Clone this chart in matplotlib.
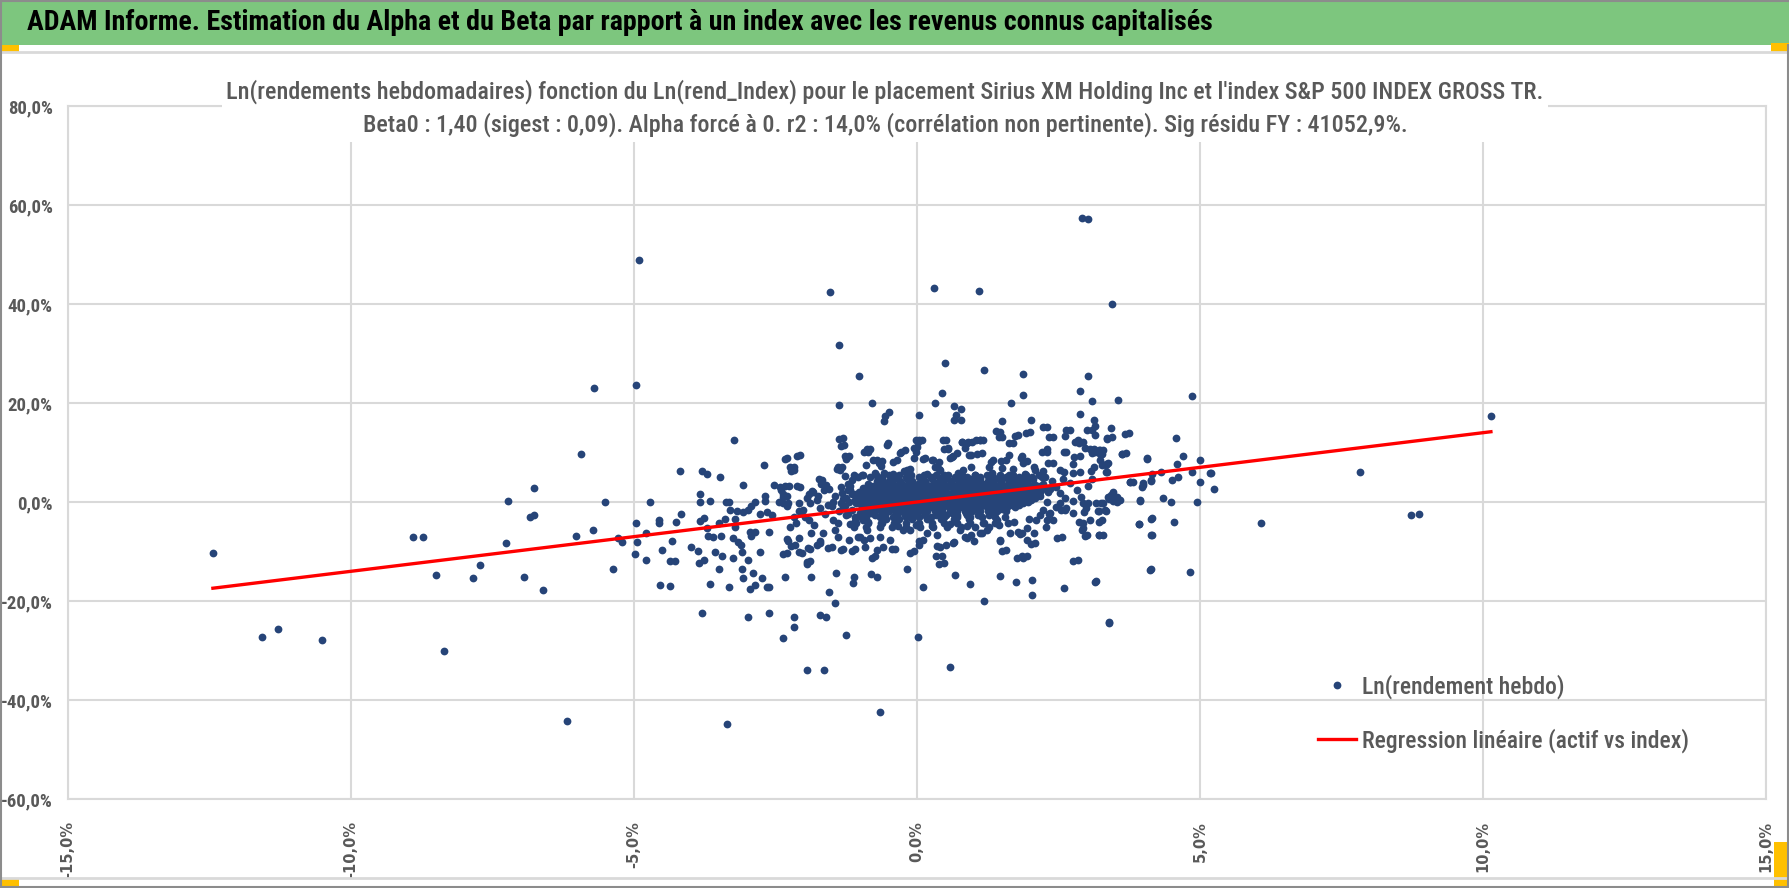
import numpy as np
import matplotlib
matplotlib.use('Agg')
import matplotlib.pyplot as plt
from matplotlib import font_manager
from matplotlib.font_manager import FontProperties
from matplotlib.patches import Rectangle
from matplotlib.lines import Line2D
from matplotlib.ticker import FuncFormatter

# --- données (en %) ---
titre = "ADAM Informe. Estimation du Alpha et du Beta par rapport à un index avec les revenus connus capitalisés"
sous_titre_1 = "Ln(rendements hebdomadaires) fonction du Ln(rend_Index) pour le placement Sirius XM Holding Inc et l'index S&P 500 INDEX GROSS TR."
sous_titre_2 = "Beta0 : 1,40 (sigest : 0,09). Alpha forcé à 0. r2 : 14,0% (corrélation non pertinente). Sig résidu FY : 41052,9%."
legende_points = "Ln(rendement hebdo)"
legende_droite = "Regression linéaire (actif vs index)"
beta0 = 1.40

x_ticks = [-15, -10, -5, 0, 5, 10, 15]
y_ticks = [-60, -40, -20, 0, 20, 40, 60, 80]

# points isolés à gauche
pts_gauche = [(-12.44, -10.4), (-11.58, -27.2), (-11.29, -25.7), (-10.52, -27.8), (-8.90, -7.1),
              (-8.72, -7.1), (-8.50, -14.8), (-8.36, -30.1), (-7.84, -15.4), (-7.72, -12.8),
              (-7.27, -8.3), (-7.23, 0.2), (-6.94, -15.1), (-6.83, -3.0), (-6.76, -2.7),
              (-6.76, 2.9), (-6.61, -17.7), (-6.19, -44.2), (-6.02, -6.9), (-5.94, 9.6),
              (-5.73, -5.7), (-5.71, 23.1), (-5.51, -0.1), (-5.37, -13.5), (-5.29, -7.2),
              (-5.21, -8.1), (-4.97, 23.7), (-4.97, -4.2), (-4.95, -8.1), (-4.98, -10.6),
              (-4.91, 48.9), (-4.78, -6.3), (-4.78, -11.7), (-4.72, -0.1)]

# nuage bas / milieu
pts_bas = [(-4.56, -3.7), (-4.55, -4.2), (-4.51, -9.6), (-4.54, -16.7), (-4.37, -17.0), (-4.37, -11.9),
           (-4.27, -11.9), (-4.33, -7.9), (-4.26, -4.0), (-4.17, -2.4), (-4.0, -9.1), (-3.87, -9.9),
           (-3.85, -12.3), (-3.77, -11.8), (-3.83, 1.7), (-3.83, 0.1), (-3.83, -3.9), (-3.76, -3.2),
           (-3.71, -5.2), (-3.69, -6.9), (-3.60, -7.1), (-3.46, -6.9), (-3.65, 0.3), (-3.65, -16.5),
           (-3.57, -10.1), (-3.50, -13.5), (-3.44, -11.0), (-3.79, -22.4), (-3.49, -4.2), (-3.40, -3.4),
           (-3.37, 0.1), (-3.32, 0.1), (-3.33, -17.1), (-3.31, -1.6), (-3.22, -3.4), (-3.21, -5.1),
           (-3.25, -7.2), (-3.25, -11.4), (-3.16, -8.1), (-3.11, -8.7), (-3.09, -10.1), (-3.09, -13.5),
           (-3.07, -15.4), (-3.18, -1.8), (-3.07, -2.1), (-2.98, -1.6), (-2.94, -0.9), (-2.87, 0.0),
           (-2.99, -11.7), (-2.99, -23.3), (-2.95, -6.1), (-2.93, -6.9), (-2.87, -6.1), (-2.87, -16.7),
           (-2.95, -17.5), (-2.89, -14.4), (-2.78, -2.4), (-2.78, -10.1), (-2.73, -15.3), (-2.69, 1.2),
           (-2.69, 0.3), (-2.65, -17.2), (-2.62, -17.2), (-2.61, -22.4), (-2.61, -6.1), (-2.65, -2.0),
           (-2.57, -2.7), (-2.53, 3.5), (-2.41, 2.5), (-2.37, 1.7), (-2.33, 3.2), (-2.43, 0.0),
           (-2.37, -0.3), (-2.37, -10.6), (-2.36, -27.4), (-2.34, -15.2), (-2.30, -7.4), (-2.28, -7.8),
           (-2.22, -8.8), (-2.30, 1.3), (-2.28, -0.3), (-2.18, -23.3), (-2.18, -25.3), (-2.12, 3.2),
           (-2.09, -0.2), (-2.08, -1.9), (-2.09, -7.3), (-2.09, -10.2), (-1.95, -12.1), (-1.95, -12.5),
           (-1.95, -33.9), (-1.64, -33.9), (-1.87, -15.2), (-1.92, -9.3), (-1.87, -6.3), (-1.90, -3.7),
           (-1.90, 1.7), (-1.85, 2.2), (-1.74, 4.6), (-1.70, 3.7), (-1.76, -8.6), (-1.72, -7.8),
           (-1.72, -22.9), (-1.61, -23.3), (-1.57, -9.3), (-1.55, -18.2), (-1.45, -20.4), (-1.43, -14.4),
           (-1.34, -9.6), (-1.26, -26.8), (-1.15, -9.9), (-1.13, -16.4), (-1.11, -15.2), (-0.94, -7.6),
           (-1.04, -7.1), (-0.81, -14.6), (-0.71, -15.2), (-0.80, -11.3), (-0.65, -42.5), (-0.44, -9.4),
           (-0.60, -9.0), (-0.17, -13.5), (0.02, -27.3), (0.04, -8.6), (0.04, -7.9), (-0.13, -10.3),
           (0.10, -17.1), (0.34, -11.0), (0.38, -12.6), (0.36, -8.8), (0.51, -8.6), (0.59, -33.4),
           (0.67, -14.7), (0.93, -16.5), (1.00, -7.9), (1.18, -20.1), (1.46, -15.0), (1.50, -9.9),
           (1.46, -7.9), (1.75, -16.2), (1.77, -11.4), (1.87, -11.4), (2.01, -8.4), (2.03, -15.8),
           (2.03, -18.8), (2.48, -7.3), (2.60, -17.3), (2.76, -12.0), (2.96, -6.9), (3.15, -16.1),
           (3.21, -6.7), (3.40, -24.4), (3.76, 4.0), (4.00, 3.4), (4.14, 4.5), (3.94, 0.3),
           (3.92, -4.5), (4.14, -3.4), (4.14, -6.7), (4.12, -13.7), (3.37, 1.0), (3.46, 0.3),
           (3.53, 0.1), (3.17, -0.3), (3.21, -1.8), (2.94, -0.3), (2.95, -2.0), (2.87, -4.0),
           (2.93, -5.2), (2.33, -2.4), (2.29, 0.0), (2.55, -1.6), (2.62, -1.7), (1.94, -5.3),
           (2.28, -5.1), (1.79, -6.1), (1.82, -6.4), (1.15, -6.3), (0.84, -7.1), (0.65, -8.1),
           (-3.36, -44.9)]

# nuage haut
pts_haut = [(2.91, 57.4), (3.03, 57.1), (-1.53, 42.4), (0.30, 43.2), (1.10, 42.6), (3.44, 39.9),
            (-1.37, 31.7), (0.49, 28.1), (1.18, 26.7), (-1.02, 25.5), (1.88, 25.8), (3.03, 25.5),
            (2.88, 22.5), (0.45, 22.0), (1.87, 21.6), (3.56, 20.7), (3.09, 20.5), (-1.37, 19.6),
            (-0.80, 20.1), (0.32, 19.9), (1.66, 19.9), (0.65, 19.3), (0.77, 18.7), (0.69, 17.5),
            (0.66, 16.5), (0.77, 16.6), (-0.49, 18.2), (-0.57, 17.3), (-0.59, 16.4), (0.04, 17.5),
            (2.88, 17.8), (1.50, 16.3), (2.01, 16.6), (3.13, 16.6), (3.15, 15.4), (3.01, 14.5),
            (3.15, 13.6), (2.22, 15.2), (2.64, 14.6), (2.62, 13.4), (3.42, 14.9), (3.68, 13.7),
            (1.40, 14.3), (1.44, 13.1), (1.93, 13.9), (1.73, 13.3), (2.34, 13.1), (3.36, 12.8),
            (-3.24, 12.5), (-1.37, 12.8), (-1.35, 11.4), (-0.01, 12.5), (0.04, 12.5), (0.46, 12.5),
            (1.04, 12.6), (1.11, 12.6), (0.80, 12.1), (0.90, 12.1), (0.84, 11.0), (1.62, 11.9),
            (2.80, 12.2), (2.87, 11.9), (2.96, 10.9), (3.05, 10.8), (3.09, 9.8), (3.22, 10.5),
            (3.24, 9.6), (-0.53, 11.6), (-0.94, 10.2), (-0.88, 10.8), (-0.29, 10.2), (-0.06, 11.0),
            (-0.01, 10.0), (0.48, 10.7), (0.55, 11.0), (2.20, 10.2), (2.29, 10.7), (2.59, 10.1),
            (3.62, 9.6), (4.07, 8.6), (-2.34, 8.7), (-2.12, 9.3), (-2.71, 7.5), (-2.24, 7.0),
            (-2.22, 6.3), (-1.27, 9.3), (-1.26, 8.6), (-0.77, 8.5), (-0.67, 7.9), (-0.63, 7.2),
            (-0.43, 8.1), (0.11, 8.7), (0.26, 8.4), (0.39, 8.1), (0.59, 8.9), (0.62, 9.0),
            (0.92, 9.4), (1.06, 9.6), (1.63, 9.4), (1.83, 8.8), (1.87, 7.8), (1.31, 8.0),
            (1.49, 8.2), (2.32, 7.8), (2.78, 9.0), (2.76, 7.7), (3.34, 7.5), (3.13, 7.1),
            (-4.19, 6.3), (-3.80, 6.3), (-3.71, 5.7), (-3.48, 5.1), (-3.07, 3.4), (-1.42, 6.6),
            (-1.40, 7.1), (-0.90, 7.5), (-0.23, 6.3), (-0.13, 6.7), (0.31, 7.0), (0.38, 6.7),
            (0.81, 6.5), (0.95, 7.1), (1.27, 7.0), (1.50, 6.9), (1.69, 6.7), (2.06, 7.0),
            (2.22, 6.3), (2.59, 6.1), (2.88, 6.1), (3.08, 6.3), (3.36, 6.1)]

# points à droite
pts_droite = [(4.85, 21.4), (10.14, 17.3), (7.83, 6.1), (6.07, -4.2), (8.72, -2.7), (8.87, -2.5),
              (5.0, 8.5), (4.70, 9.3), (4.57, 12.9), (4.07, 8.8), (3.35, 12.9), (3.62, 9.7),
              (3.24, 10.6), (3.26, 9.7), (3.23, 8.5), (3.34, 7.7), (3.34, 6.1), (4.59, 7.7),
              (4.31, 6.1), (4.16, 5.6), (4.13, 4.3), (4.00, 3.8), (3.98, 3.1), (3.76, 4.1),
              (4.86, 6.1), (5.20, 5.8), (5.18, 5.8), (5.0, 4.0), (5.24, 2.6), (4.51, 4.4),
              (4.61, 5.0), (4.35, 0.8), (4.49, -0.1), (4.94, -0.1), (3.94, 0.5), (3.52, 0.3),
              (3.43, 1.4), (3.40, 0.6), (3.25, -0.3), (3.20, -1.8), (3.34, -1.8), (3.22, -4.0),
              (3.22, -6.6), (3.93, -4.5), (4.15, -3.3), (4.15, -6.6), (4.54, -4.0), (4.13, -13.6),
              (4.82, -14.2), (3.17, -16.0), (3.40, -24.2)]

# halo autour du coeur
pts_halo = [(-2.29, 8.8), (-2.07, 9.5), (-2.18, 7.1), (-2.17, 6.5), (-2.27, 3.3), (-2.42, 3.1),
            (-2.36, 1.1), (-2.30, -0.9), (-2.18, -3.0), (-2.24, -5.0), (-2.13, -4.3), (-2.07, 3.1),
            (-2.01, -1.6), (-1.98, -3.0), (-1.89, -0.3), (-1.83, 2.1), (-1.77, 0.4), (-1.71, -1.3),
            (-1.68, 4.5), (-1.65, 2.4), (-1.60, 3.4), (-1.51, -0.9), (-1.48, -3.6), (-1.45, -5.6),
            (-1.39, -7.0), (-1.36, 6.5), (-1.33, 7.1), (-1.30, 12.9), (-1.29, 11.5), (-1.21, 9.2),
            (-1.18, 2.4), (-1.15, 4.5), (-1.11, 5.5), (-1.07, -0.3), (-1.01, -2.3), (-0.95, -3.6),
            (-0.89, -5.6), (-0.83, -7.3), (-0.86, 10.2), (-0.83, 10.8), (-0.71, 8.5), (-0.62, 8.2),
            (-0.59, 5.8), (-0.51, 11.9), (-0.36, 8.5), (-0.30, 9.8), (-0.21, 10.5), (-0.18, 6.5),
            (-0.06, 8.8), (0.0, 11.2), (0.02, 12.2), (0.08, 12.5), (0.14, 8.8), (0.29, 8.5),
            (0.41, 6.5), (0.52, 12.5), (0.55, 10.8), (0.64, 9.2), (0.70, 9.8), (0.79, 12.2),
            (0.88, 11.9), (0.97, 12.2), (0.96, 9.5), (1.11, 12.5), (1.17, 12.5), (1.14, 9.8),
            (1.35, 8.5), (1.47, 14.2), (1.50, 13.2), (1.58, 8.5), (1.70, 11.9), (1.79, 13.5),
            (1.85, 9.2), (1.94, 8.2), (1.99, 14.2), (2.09, 6.5), (2.29, 15.2), (2.29, 10.2),
            (2.41, 13.2), (2.41, 7.8), (2.53, 6.5), (2.64, 10.2), (2.70, 14.5), (2.76, 5.8),
            (2.85, 12.5), (2.88, 9.2), (2.94, 12.2), (3.09, 14.5), (3.12, 10.8), (3.15, 10.2),
            (3.26, 7.5), (3.29, 10.5), (3.38, 7.8), (3.44, 13.2), (3.70, 9.8), (3.75, 13.9),
            (3.82, 4.1), (3.47, 2.1), (3.53, 1.1), (3.59, 0.4), (3.29, -0.3), (3.32, -1.6),
            (3.26, -3.6), (3.03, -0.3), (3.06, -3.6), (2.94, -4.3), (2.91, -5.6), (3.0, -6.7),
            (3.29, -6.7), (2.76, -2.3), (2.64, -1.3), (2.53, -0.3), (2.56, -7.0), (2.41, -3.6),
            (2.35, -2.3), (2.23, -1.6), (2.29, -3.6), (2.11, -3.6), (2.06, -6.3), (2.09, -8.3),
            (1.85, -6.3), (1.94, -7.7), (1.85, -11.0), (1.94, -11.0), (1.64, -6.3), (1.58, -9.7),
            (1.47, -7.7), (1.41, -3.6), (1.23, -5.6), (1.11, -6.3), (0.96, -6.7), (0.88, -7.3),
            (0.76, -5.6), (0.64, -8.3), (0.41, -9.0), (0.44, -11.0), (0.47, -12.4), (0.35, -6.7),
            (0.17, -6.3), (0.11, -7.7), (-0.06, -10.0), (-0.12, -5.6), (-0.24, -5.6), (-0.39, -9.4),
            (-0.48, -7.7), (-0.65, -7.0), (-0.71, -9.7), (-0.74, -11.0), (-0.92, -9.0), (-1.01, -7.0),
            (-1.10, -9.4), (-1.21, -7.7), (-1.30, -9.4), (-1.51, -9.0), (-1.71, -8.3), (-1.89, -9.4),
            (-1.89, -12.0), (-2.04, -10.4), (-2.16, -8.7), (-2.30, -10.4), (2.85, -11.7),
            (-1.45, 1.2), (-1.38, -1.8), (-1.30, 0.6), (-1.25, -2.6), (-1.22, 3.6), (-1.18, -4.4),
            (-1.12, 1.6), (-1.40, -4.2), (-1.55, 2.7), (-1.62, -2.4), (-1.28, 5.2), (-0.98, 5.4),
            (-0.75, 5.9), (-0.42, 5.6), (-0.12, 5.3), (0.18, 5.7), (0.47, 5.4), (0.73, 5.9),
            (1.02, 5.5), (1.33, 5.8), (1.62, 5.4), (1.91, 5.6), (2.21, 5.1), (2.38, 4.2),
            (2.46, 3.0), (2.52, 1.8), (2.61, 0.9), (2.70, 3.8), (2.82, 2.4), (2.90, 1.1),
            (3.02, 3.2), (3.10, 4.6), (2.45, -1.0), (2.18, -2.6), (1.98, -3.4), (1.72, -4.1),
            (1.44, -4.6), (1.18, -4.3), (0.88, -4.8), (0.58, -4.5), (0.27, -4.9), (-0.02, -4.6),
            (-0.33, -4.8), (-0.62, -4.3), (-0.86, -4.0), (-0.99, -3.0), (2.35, 2.7), (2.58, 4.6),
            (2.75, 0.2), (2.98, -1.2), (-1.35, 3.0), (-1.48, 0.0), (-1.58, -0.6), (-1.75, 1.3),
            (-1.95, 0.8), (-2.05, -2.2), (-1.82, -4.6), (-1.66, -6.2),
            (-1.18, 3.2), (-1.22, 2.4), (-1.15, 1.6), (-1.25, 0.8), (-1.20, 0.0), (-1.28, -0.8),
            (-1.15, -1.6), (-1.22, -2.4), (-1.10, -3.8), (-1.32, 1.9), (-1.35, -0.2), (-1.30, -1.3)]

# coeur dense : une rangée par niveau de rendement de l'actif, abscisses = rendements de l'index
coeur_y = [5.5, 5.0, 4.6, 4.2, 3.7, 3.3, 2.9, 2.5, 2.1, 1.7, 1.3, 0.9, 0.5, 0.1, -0.3, -0.7, -1.1,
           -1.5, -1.9, -2.3, -2.7, -3.1, -3.5, -4.2, -5.0]
coeur_x = [
    [-0.95, -0.72, -0.50, -0.31, -0.10, 0.12, 0.34, 0.55, 0.79, 1.02, 1.24, 1.47, 1.70, 1.93, 2.15],
    [-1.05, -0.83, -0.61, -0.40, -0.19, 0.03, 0.24, 0.45, 0.67, 0.89, 1.11, 1.34, 1.57, 1.80, 2.03,
     2.26],
    [-0.62, -0.41, -0.18, 0.07, 0.26, 0.49, 0.71, 0.93, 1.12, 1.38, 1.61, 1.84, 2.05],
    [-0.70, -0.50, -0.30, -0.08, 0.15, 0.38, 0.60, 0.82, 1.03, 1.25, 1.49, 1.72, 1.95],
    [-0.86, -0.71, -0.55, -0.42, -0.27, -0.13, 0.02, 0.16, 0.31, 0.44, 0.59, 0.72, 0.88, 1.01,
     1.16, 1.30, 1.47, 1.60, 1.76, 1.91, 2.07, 2.22],
    [-0.78, -0.62, -0.35, -0.20, -0.07, 0.10, 0.24, 0.37, 0.52, 0.66, 0.80, 0.95, 1.09, 1.23,
     1.39, 1.54, 1.69, 1.83, 1.98, 2.14],
    [-0.95, -0.84, -0.73, -0.61, -0.50, -0.39, -0.28, -0.16, -0.05, 0.06, 0.17, 0.29, 0.40, 0.51,
     0.63, 0.74, 0.85, 0.97, 1.08, 1.19, 1.31, 1.42, 1.53, 1.65, 1.76, 1.87, 1.99, 2.10, 2.24],
    [-0.90, -0.67, -0.44, -0.22, 0.01, 0.23, 0.46, 0.68, 0.91, 1.13, 1.36, 1.59, 1.81, 2.04, 2.19],
    [-1.02, -0.91, -0.80, -0.69, -0.58, -0.47, -0.36, -0.25, -0.14, -0.03, 0.08, 0.19, 0.30, 0.41,
     0.52, 0.63, 0.74, 0.85, 0.96, 1.07, 1.18, 1.29, 1.40, 1.51, 1.62, 1.73, 1.84, 1.95, 2.06,
     2.18, 2.31],
    [-0.96, -0.74, -0.52, -0.30, -0.08, 0.14, 0.36, 0.58, 0.80, 1.02, 1.24, 1.46, 1.68, 1.90, 2.12],
    [-1.05, -0.94, -0.83, -0.72, -0.61, -0.50, -0.39, -0.28, -0.17, -0.06, 0.05, 0.16, 0.27, 0.38,
     0.49, 0.60, 0.71, 0.82, 0.93, 1.04, 1.15, 1.26, 1.37, 1.48, 1.59, 1.70, 1.81, 1.92, 2.04, 2.17],
    [-1.00, -0.78, -0.56, -0.34, -0.12, 0.10, 0.32, 0.54, 0.76, 0.98, 1.20, 1.42, 1.64, 1.86, 2.08],
    [-1.10, -0.99, -0.88, -0.77, -0.66, -0.55, -0.44, -0.33, -0.22, -0.11, 0.00, 0.11, 0.22, 0.33,
     0.44, 0.55, 0.66, 0.77, 0.88, 0.99, 1.10, 1.21, 1.32, 1.43, 1.54, 1.65, 1.76, 1.88, 2.01],
    [-1.04, -0.82, -0.60, -0.38, -0.16, 0.06, 0.28, 0.50, 0.72, 0.94, 1.16, 1.38, 1.60, 1.82, 1.96],
    [-1.02, -0.91, -0.80, -0.69, -0.58, -0.47, -0.36, -0.25, -0.14, -0.03, 0.08, 0.19, 0.30, 0.41,
     0.52, 0.63, 0.74, 0.85, 0.96, 1.07, 1.18, 1.29, 1.40, 1.51, 1.62, 1.74, 1.87],
    [-0.96, -0.74, -0.52, -0.30, -0.08, 0.14, 0.36, 0.58, 0.80, 1.02, 1.24, 1.46, 1.68, 1.80],
    [-0.97, -0.86, -0.75, -0.64, -0.53, -0.42, -0.31, -0.20, -0.09, 0.02, 0.13, 0.24, 0.35, 0.46,
     0.57, 0.68, 0.79, 0.90, 1.01, 1.12, 1.23, 1.34, 1.46, 1.59, 1.73],
    [-0.90, -0.70, -0.48, -0.26, -0.04, 0.18, 0.40, 0.62, 0.84, 1.06, 1.28, 1.50],
    [-0.92, -0.78, -0.64, -0.50, -0.37, -0.23, -0.10, 0.04, 0.17, 0.31, 0.44, 0.58, 0.71, 0.85,
     0.98, 1.12, 1.26, 1.41, 1.57],
    [-0.82, -0.58, -0.34, -0.10, 0.14, 0.38, 0.62, 0.86, 1.10, 1.34],
    [-0.74, -0.56, -0.38, -0.21, -0.03, 0.15, 0.33, 0.52, 0.70, 0.89, 1.08, 1.28],
    [-1.10, -0.90, -0.65, -0.42, -0.20, 0.03, 0.25, 0.47, 0.70, 0.93, 1.15, 1.37, 1.55],
    [-0.55, -0.31, -0.08, 0.17, 0.42, 0.66, 0.92],
    [-1.08, -0.86, -0.63, -0.41, -0.19, 0.04, 0.26, 0.48, 0.71, 0.93, 1.16, 1.38, 1.61],
    [-1.12, -0.90, -0.66, -0.44, -0.20, 0.05, 0.29, 0.53, 0.78, 1.02, 1.27],
]

# --- assemblage ---
pts = pts_gauche + pts_bas + pts_haut + pts_droite + pts_halo
for yy, xs in zip(coeur_y, coeur_x):
    pts += [(xx, yy) for xx in xs]
pts = np.array(pts)
rend_index = pts[:, 0]
rend_actif = pts[:, 1]


# --- polices : on cherche une police étroite (type Calibri) ---
def cherche_etroite(poids_voulus):
    prefs = ['LiberationSansNarrow', 'RobotoCondensed', 'DejaVuSansCondensed', 'OpenSansCondensed',
             'NotoSansCondensed', 'Narrow', 'Condensed']
    fichiers = [f for f in font_manager.fontManager.ttflist
                if f.style == 'normal' and isinstance(f.weight, int)]
    for poids in poids_voulus:
        for p in prefs:
            for f in fichiers:
                nom = f.fname.replace('-', '').replace('_', '').replace(' ', '').lower()
                if p.lower() in nom and abs(f.weight - poids) < 60:
                    return FontProperties(fname=f.fname)
    return FontProperties(family='Roboto', weight=poids_voulus[0])


fp_reg = cherche_etroite([400])
fp_moyen = cherche_etroite([500, 400])
fp_gras = cherche_etroite([700])
gris = '#595959'
bleu = '#264478'

W, H = 1790, 888
fig = plt.figure(figsize=(W / 100, H / 100), dpi=100)
fig.patch.set_facecolor('white')


def fy(py):
    return 1 - py / H


def fx(px):
    return px / W


# bandeau vert + décor du cadre
fig.patches.append(Rectangle((0, fy(45)), 1, fy(2) - fy(45), transform=fig.transFigure,
                             facecolor='#7DC67E', edgecolor='none', zorder=0))
fig.lines.append(Line2D([0, 1], [fy(1), fy(1)], transform=fig.transFigure, color='#8C8C8C', lw=1.5))
fig.lines.append(Line2D([0, 1], [fy(52), fy(52)], transform=fig.transFigure, color='#D9D9D9', lw=2))
fig.lines.append(Line2D([0, 1], [fy(878), fy(878)], transform=fig.transFigure, color='#D9D9D9', lw=2))
fig.lines.append(Line2D([fx(1), fx(1)], [0, 1], transform=fig.transFigure, color='#8C8C8C', lw=1.5))
fig.lines.append(Line2D([fx(1788), fx(1788)], [0, fy(45)], transform=fig.transFigure, color='#8C8C8C', lw=1.5))
fig.lines.append(Line2D([0, 1], [fy(887), fy(887)], transform=fig.transFigure, color='#8C8C8C', lw=1.5))
for (x0, y0, x1, y1) in [(0, 45, 19, 53), (1771, 43, 1790, 53), (0, 878, 19, 888), (1774, 842, 1790, 888)]:
    fig.patches.append(Rectangle((fx(x0), fy(y1)), fx(x1) - fx(x0), fy(y0) - fy(y1),
                                 transform=fig.transFigure, facecolor='#FFC000', edgecolor='none'))

# --- axes ---
ax = fig.add_axes([fx(68), fy(799), fx(1766) - fx(68), fy(106) - fy(799)])
ax.set_xlim(x_ticks[0], x_ticks[-1])
ax.set_ylim(y_ticks[0], y_ticks[-1])
ax.set_xticks(x_ticks)
ax.set_yticks(y_ticks)
fmt = FuncFormatter(lambda v, p: ('%.1f%%' % v).replace('.', ','))
ax.xaxis.set_major_formatter(fmt)
ax.yaxis.set_major_formatter(fmt)
ax.grid(True, color='#D9D9D9', lw=1.5)
ax.set_axisbelow(True)
for s in ax.spines.values():
    s.set_color('#D9D9D9')
    s.set_linewidth(1.5)
ax.tick_params(length=0)
ax.tick_params(axis='y', pad=11, labelcolor=gris)
ax.tick_params(axis='x', pad=16, labelcolor=gris, labelrotation=90)
for lab in ax.get_yticklabels():
    lab.set_fontproperties(fp_gras)
    lab.set_fontsize(13.5)
for lab in ax.get_xticklabels():
    lab.set_fontfamily('DejaVu Sans')
    lab.set_fontweight('bold')
    lab.set_fontsize(10.5)

ax.plot(rend_index, rend_actif, 'o', ms=5.6, color=bleu, mec=bleu, mew=0, zorder=3,
        label=legende_points)
xr = np.array([rend_index.min(), rend_index.max()])
ax.plot(xr, beta0 * xr, color='#FF0000', lw=2.4, zorder=4, label=legende_droite)

fp_leg = fp_moyen.copy()
fp_leg.set_size(17)
leg = ax.legend(loc='upper left', bbox_to_anchor=(fx(1318), fy(674)), bbox_transform=fig.transFigure,
                frameon=False, borderpad=0, borderaxespad=0, handlelength=1.6, handletextpad=0.25,
                labelspacing=1.25, prop=fp_leg)
for t in leg.get_texts():
    t.set_color(gris)

# --- titres (taille ajustée à la largeur mesurée sur l'image) ---
r = fig.canvas.get_renderer()
t = fig.text(fx(27), fy(23), titre, fontproperties=fp_gras, color='black', va='center', ha='left')
t.set_fontsize(17)
w = t.get_window_extent(r).width
t.set_fontsize(17 * 1190 / w)

s1 = fig.text(fx(885), fy(93), sous_titre_1, fontproperties=fp_moyen, color=gris)
s1.set_fontsize(15)
w1 = s1.get_window_extent(r).width
taille_st = 15 * 1318 / w1
s1.remove()
st = fig.text(fx(885), fy(108), sous_titre_1 + '\n' + sous_titre_2, fontproperties=fp_moyen,
              color=gris, ha='center', va='center', multialignment='center', linespacing=1.45,
              bbox=dict(facecolor='white', edgecolor='none', pad=2))
st.set_fontsize(taille_st)

fig.savefig('out.png', dpi=100)
